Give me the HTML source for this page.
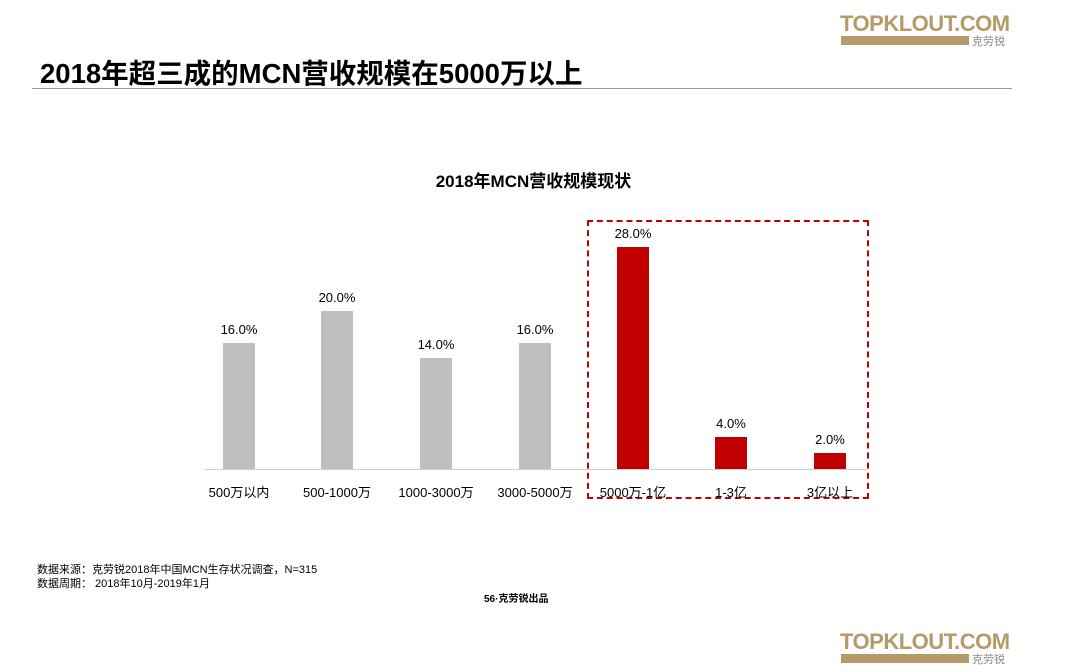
<!DOCTYPE html>
<html><head><meta charset="utf-8"><style>
body{margin:0;width:1067px;height:672px;background:#fff;position:relative;overflow:hidden;font-family:"Liberation Sans","Noto Sans CJK SC",sans-serif;color:#000}
.a{position:absolute;white-space:nowrap}
.bar{position:absolute;width:32px}
.v{position:absolute;width:80px;text-align:center;font-size:13px}
.c{position:absolute;width:100px;text-align:center;font-size:13px;top:482px}
.logo{position:absolute;font-weight:bold;font-size:22px;color:#b59a6a;letter-spacing:-0.5px}
.sub{position:absolute;height:9px;background:#b59a6a;width:128px}
</style></head><body>
<div class="logo" style="left:840px;top:11px">TOPKLOUT.COM</div>
<div class="sub" style="left:841px;top:36px"></div><div class="a" style="left:972px;top:33px;font-size:11px;color:#888">克劳锐</div>
<div class="a" style="left:40px;top:51px;font-size:27.5px;font-weight:bold">2018年超三成的MCN营收规模在5000万以上</div>
<div class="a" style="left:32px;top:88px;width:980px;height:1px;background:#999"></div>
<div class="a" style="left:0;width:1067px;text-align:center;top:167px;font-size:17px;font-weight:bold">2018年MCN营收规模现状</div>
<div class="a" style="left:205px;top:469px;width:662px;height:1px;background:#d0d0d0"></div>
<div class="a" style="left:587px;top:220px;width:278px;height:275px;border:2px dashed #c00000"></div>

<div class="bar" style="left:223px;top:343px;height:126px;background:#bfbfbf"></div><div class="v" style="left:199px;top:322px">16.0%</div>
<div class="bar" style="left:321px;top:311px;height:158px;background:#bfbfbf"></div><div class="v" style="left:297px;top:290px">20.0%</div>
<div class="bar" style="left:420px;top:358px;height:111px;background:#bfbfbf"></div><div class="v" style="left:396px;top:337px">14.0%</div>
<div class="bar" style="left:519px;top:343px;height:126px;background:#bfbfbf"></div><div class="v" style="left:495px;top:322px">16.0%</div>
<div class="bar" style="left:617px;top:247px;height:222px;background:#c00000"></div><div class="v" style="left:593px;top:226px">28.0%</div>
<div class="bar" style="left:715px;top:437px;height:32px;background:#c00000"></div><div class="v" style="left:691px;top:416px">4.0%</div>
<div class="bar" style="left:814px;top:453px;height:16px;background:#c00000"></div><div class="v" style="left:790px;top:432px">2.0%</div>

<div class="c" style="left:189px">500万以内</div>
<div class="c" style="left:287px">500-1000万</div>
<div class="c" style="left:386px">1000-3000万</div>
<div class="c" style="left:485px">3000-5000万</div>
<div class="c" style="left:583px">5000万-1亿</div>
<div class="c" style="left:681px">1-3亿</div>
<div class="c" style="left:780px">3亿以上</div>

<div class="a" style="left:37px;top:563px;font-size:11px;line-height:14px">数据来源：克劳锐2018年中国MCN生存状况调查，N=315<br>数据周期： 2018年10月-2019年1月</div>
<div class="a" style="left:484px;top:590px;font-size:10px;font-weight:bold">56·克劳锐出品</div>
<div class="logo" style="left:840px;top:629px">TOPKLOUT.COM</div>
<div class="sub" style="left:841px;top:654px"></div><div class="a" style="left:972px;top:651px;font-size:11px;color:#888">克劳锐</div>
</body></html>
